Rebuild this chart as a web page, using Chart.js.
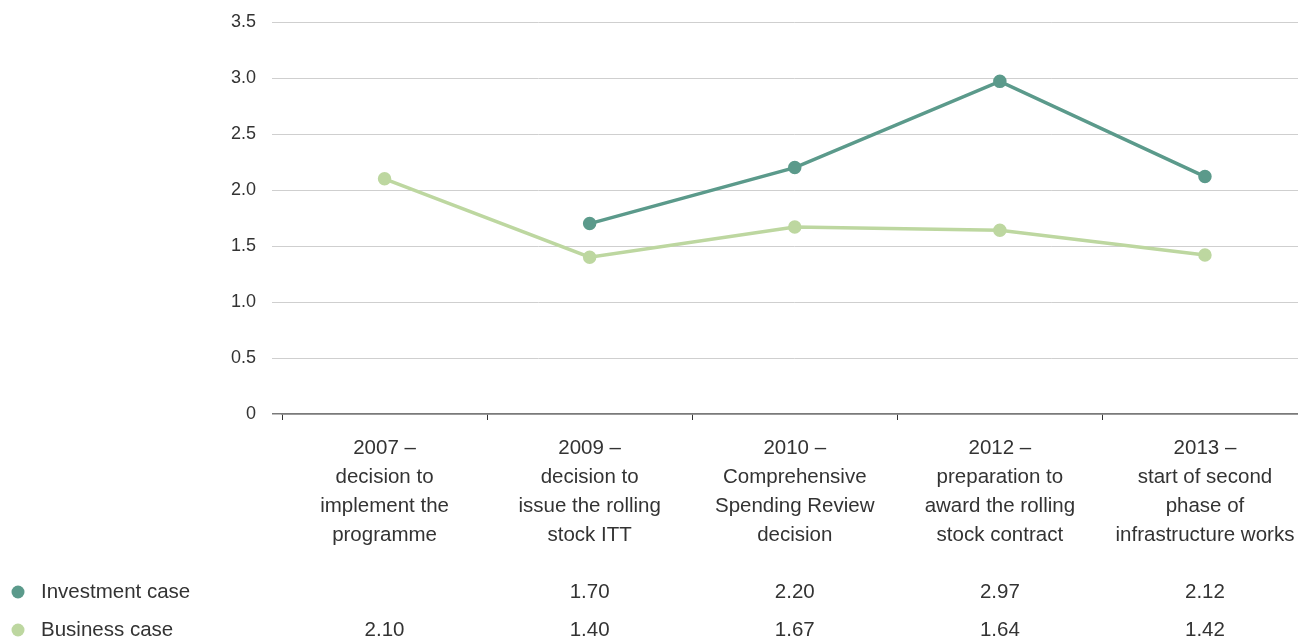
<!DOCTYPE html>
<html>
<head>
<meta charset="utf-8">
<script src="https://cdn.jsdelivr.net/npm/chart.js@4"></script>
<style>
html,body{margin:0;padding:0;overflow:hidden;background:#fff;}
#wrap{width:1316px;height:640px;}
</style>
</head>
<body>
<div id="wrap"><canvas id="c" width="1316" height="640"></canvas></div>
<script>
const categories = [
  ["2007 –", "decision to", "implement the", "programme"],
  ["2009 –", "decision to", "issue the rolling", "stock ITT"],
  ["2010 –", "Comprehensive", "Spending Review", "decision"],
  ["2012 –", "preparation to", "award the rolling", "stock contract"],
  ["2013 –", "start of second", "phase of", "infrastructure works"]
];
const investmentCase = [null, 1.70, 2.20, 2.97, 2.12];
const businessCase = [2.10, 1.40, 1.67, 1.64, 1.42];
const seriesNames = ["Investment case", "Business case"];
const yTicks = [0, 0.5, 1.0, 1.5, 2.0, 2.5, 3.0, 3.5];

const colInv = '#5b9a8b';
const colBus = '#bdd7a0';
const FONT = '"Liberation Sans", Arial, sans-serif';
const TXT = '#333333';

const tablePlugin = {
  id: 'tableRows',
  afterDraw(chart) {
    const ctx = chart.ctx;
    const xs = chart.scales.x;
    const rows = [
      {name: seriesNames[0], data: investmentCase, color: colInv, y: 592},
      {name: seriesNames[1], data: businessCase, color: colBus, y: 630}
    ];
    ctx.save();
    ctx.font = '20.5px ' + FONT;
    ctx.textBaseline = 'middle';
    rows.forEach(r => {
      ctx.fillStyle = r.color;
      ctx.beginPath();
      ctx.arc(18, r.y, 6.5, 0, Math.PI * 2);
      ctx.fill();
      ctx.fillStyle = TXT;
      ctx.textAlign = 'left';
      ctx.fillText(r.name, 41, r.y);
      ctx.textAlign = 'center';
      r.data.forEach((v, i) => {
        if (v === null) return;
        ctx.fillText(v.toFixed(2), xs.getPixelForValue(i), r.y);
      });
    });
    ctx.restore();
  }
};

new Chart(document.getElementById('c'), {
  type: 'line',
  data: {
    labels: categories,
    datasets: [
      {label: seriesNames[0], data: investmentCase, borderColor: colInv, backgroundColor: colInv,
       borderWidth: 3.5, pointRadius: 5, pointHoverRadius: 5, tension: 0},
      {label: seriesNames[1], data: businessCase, borderColor: colBus, backgroundColor: colBus,
       borderWidth: 3.5, pointRadius: 5, pointHoverRadius: 5, tension: 0}
    ]
  },
  options: {
    responsive: false,
    animation: false,
    devicePixelRatio: 1,
    layout: {padding: {top: 22, right: 0, left: 0, bottom: 0}},
    plugins: {legend: {display: false}, tooltip: {enabled: false}},
    scales: {
      x: {
        offset: true,
        grid: {display: true, drawOnChartArea: false, drawTicks: true, tickLength: 6, color: '#333', offset: true},
        border: {display: true, color: '#7a7a7a', width: 1.5},
        ticks: {color: TXT, font: {family: FONT, size: 20.5, lineHeight: 29 / 20.5}, padding: 14, maxRotation: 0, autoSkip: false},
        afterFit(s) { s.height = 226; s.paddingLeft = 0; s.paddingRight = 0; }
      },
      y: {
        min: 0, max: 3.5,
        afterBuildTicks(s) { s.ticks = yTicks.map(v => ({value: v})); },
        grid: {
          color: c => (c.tick && c.tick.value === 0) ? '#7a7a7a' : '#cfcfcf',
          lineWidth: c => (c.tick && c.tick.value === 0) ? 1.5 : 1,
          drawTicks: true, tickLength: 10
        },
        border: {display: false},
        ticks: {
          color: TXT, font: {family: FONT, size: 18}, padding: 16,
          callback: v => v === 0 ? '0' : v.toFixed(1)
        },
        afterFit(s) { s.width = 282; s.paddingTop = 0; s.paddingBottom = 0; }
      }
    }
  },
  plugins: [tablePlugin]
});
</script>
</body>
</html>
